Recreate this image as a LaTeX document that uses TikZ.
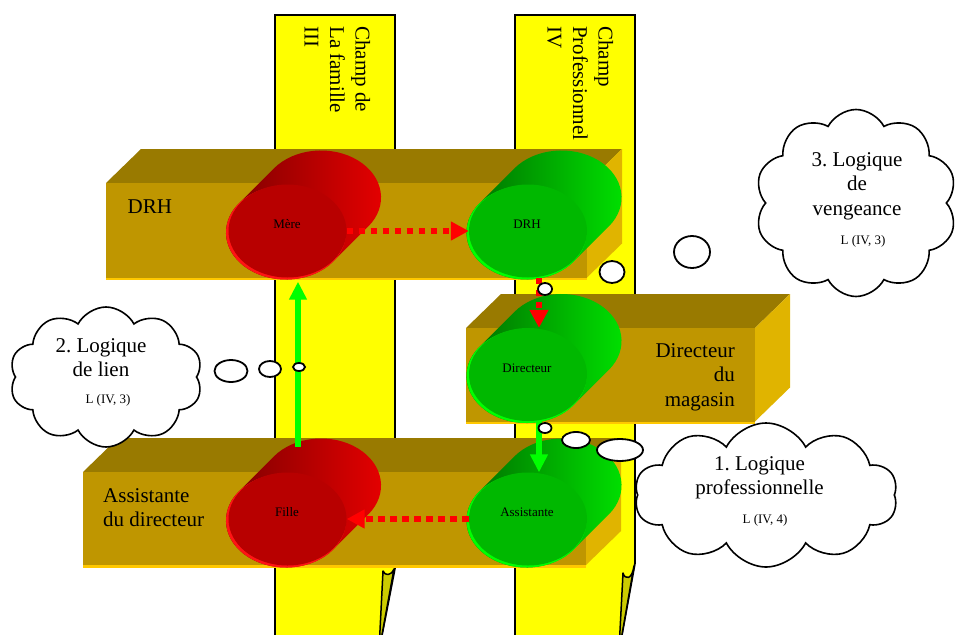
\documentclass[tikz,border=0pt]{standalone}
\usepackage{fontspec}
\setmainfont{Liberation Serif}
\usetikzlibrary{arrows.meta,shapes.geometric,shapes.symbols}
\frenchspacing

\definecolor{barfill}{RGB}{255,255,0}
\definecolor{foldfill}{RGB}{204,204,0}
\definecolor{boxfront}{RGB}{191,150,0}
\definecolor{boxtop}{RGB}{153,122,0}
\definecolor{boxside}{RGB}{224,180,0}
\definecolor{boxrim}{RGB}{255,200,0}
\definecolor{reddark}{RGB}{120,0,0}
\definecolor{redbright}{RGB}{232,0,0}
\definecolor{redface}{RGB}{184,0,0}
\definecolor{redrim}{RGB}{255,20,20}
\definecolor{grndark}{RGB}{0,105,0}
\definecolor{grnbright}{RGB}{0,228,0}
\definecolor{grnface}{RGB}{0,184,0}
\definecolor{grnrim}{RGB}{0,255,0}
\definecolor{arrowred}{RGB}{255,0,0}
\definecolor{arrowgreen}{RGB}{0,255,0}

\tikzset{
  barshape/.style={fill=barfill, draw=black, line width=1.8pt},
  foldshape/.style={fill=foldfill, draw=black, line width=1.5pt, line join=round},
  bartext/.style={font=\fontsize{21}{25.5}\selectfont, align=left, inner sep=0pt, anchor=north west, rotate=-90},
  boxlabel/.style={font=\fontsize{21}{24.5}\selectfont, inner sep=0pt},
  cyllabel/.style={font=\fontsize{13}{15}\selectfont, inner sep=0pt, anchor=base},
  cylface/.style={ellipse, minimum width=118pt, minimum height=93pt, inner sep=0pt},
  redflow/.style={draw=arrowred, line width=6.5pt, dash pattern=on 6.5pt off 5.5pt,
    -{Triangle[length=18pt,width=18pt]}},
  greenflow/.style={draw=arrowgreen, line width=5.5pt, -{Triangle[length=18pt,width=17pt]}},
  thought/.style={cloud, cloud puffs=10, cloud puff arc=125, cloud ignores aspect,
    draw=black, fill=white, line width=1.6pt, inner sep=0pt},
  bubble/.style={ellipse, draw=black, fill=white, line width=1.8pt, inner sep=0pt},
  cloudtext/.style={font=\fontsize{21}{24.5}\selectfont, align=center, inner sep=0pt},
  cloudref/.style={font=\fontsize{13}{15}\selectfont, inner sep=0pt},
}

% golden 3D bar: front face corners (x1,y1) and (x2,y2)
\newcommand\goldbox[4]{%
  \fill[boxtop] (#1,#2) -- (#1+35,#2-34) -- (#3+35,#2-34) -- (#3,#2) -- cycle;
  \fill[boxside] (#3,#2) -- (#3+35,#2-34) -- (#3+35,#4-34) -- (#3,#4) -- cycle;
  \fill[boxfront] (#1,#2) rectangle (#3,#4);
  \fill[boxrim] (#1,#4) rectangle (#3,#4+2.5);
}

% cylinder lying along the depth axis: centre, body colours, rim, face, face name
\newcommand\drawcyl[7]{%
  \path[left color=#3, right color=#4]
    (#1-47.2,#2-29) -- (#1-12.2,#2-64)
    arc[start angle=218.07, end angle=398.07, x radius=60, y radius=47]
    -- (#1+47.2,#2+29)
    arc[start angle=38.07, end angle=218.07, x radius=60, y radius=47] -- cycle;
  \fill[#5] (#1,#2) ellipse [x radius=60, y radius=47];
  \node[cylface, fill=#6] (#7) at (#1+1.5,#2-1.5) {};
}

\begin{document}
\begin{tikzpicture}[x=1pt, y=-1pt]
\useasboundingbox (0,0) rectangle (960,634);
\clip (0,0) rectangle (960,634);

% the two vertical fields
\filldraw[barshape] (275,640) -- (275,15) -- (395,15) -- (395,568) -- (381,640);
\filldraw[foldshape] (383,571) .. controls (385,576) and (391,576) .. (394,569) -- (381,640) -- (379.5,640) -- cycle;
\filldraw[barshape] (515,640) -- (515,15) -- (635,15) -- (635,563) -- (621,640);
\filldraw[foldshape] (623,573) .. controls (625,580) and (632,580) .. (634,566) -- (621,640) -- (619.5,640) -- cycle;

\node[bartext] (field-famille) at (370.5,26) {Champ de\\La famille\\III};
\node[bartext] (field-pro) at (613.5,26) {Champ\\Professionnel\\IV};

% role bars
\goldbox{106}{183}{587}{277.5}
\goldbox{466}{328}{755}{421.5}
\goldbox{83}{472}{586}{565}

\node[boxlabel, anchor=base west] (lbl-drh) at (127.5,213) {DRH};
\node[boxlabel, anchor=north east, align=right] (lbl-dir) at (735,343) {Directeur\\du\\magasin};
\node[boxlabel, anchor=north west, align=left] (lbl-asst) at (103,488) {Assistante\\du directeur};

% cylinders
\drawcyl{286}{232.5}{reddark}{redbright}{redrim}{redface}{cyl-mere}
\drawcyl{526.5}{232.5}{grndark}{grnbright}{grnrim}{grnface}{cyl-drh}
\drawcyl{526.5}{376}{grndark}{grnbright}{grnrim}{grnface}{cyl-dir}
\drawcyl{286}{520.5}{reddark}{redbright}{redrim}{redface}{cyl-fille}
\drawcyl{526.5}{520.5}{grndark}{grnbright}{grnrim}{grnface}{cyl-asst}

\node[cyllabel] (txt-mere) at (287,228) {Mère};
\node[cyllabel] (txt-drh) at (527,228) {DRH};
\node[cyllabel] (txt-dir) at (527,372) {Directeur};
\node[cyllabel] (txt-fille) at (287,516) {Fille};
\node[cyllabel] (txt-asst) at (527,516) {Assistante};

% connectors
\coordinate (vx) at (539,0);
\coordinate (lien-start) at (298,447);
\draw[redflow] (cyl-mere.east) -- (cyl-drh.west);
\draw[redflow] (cyl-asst.west) -- (cyl-fille.east);
\draw[redflow, line width=5.5pt] (cyl-drh.south -| vx) -- (cyl-dir.north -| vx);
\draw[greenflow] (cyl-dir.south -| vx) -- (cyl-asst.north -| vx);
\draw[greenflow, shorten >=4pt] (lien-start) -- (cyl-mere.south -| lien-start);

% thought bubbles
\node[bubble, minimum width=33pt, minimum height=22pt] (b2a) at (231,371) {};
\node[bubble, minimum width=22pt, minimum height=16pt] (b2b) at (270,369) {};
\node[bubble, minimum width=12pt, minimum height=8pt] (b2c) at (299,367) {};
\node[bubble, minimum width=36pt, minimum height=32pt] (b3a) at (692,252) {};
\node[bubble, minimum width=25pt, minimum height=22pt] (b3b) at (612,272) {};
\node[bubble, minimum width=14pt, minimum height=12pt] (b3c) at (545,289) {};
\node[bubble, minimum width=46pt, minimum height=22pt] (b1a) at (620,450) {};
\node[bubble, minimum width=28pt, minimum height=16pt] (b1b) at (576,440) {};
\node[bubble, minimum width=13pt, minimum height=10pt] (b1c) at (545,428) {};

% clouds
\node[thought, minimum width=263pt, minimum height=144pt] (cloud-pro) at (766,495) {};
\node[cloudtext] (c1-title) at (759.5,478) {1. Logique\\professionnelle};
\node[cloudref] (c1-ref) at (765,520) {L (IV, 4)};

\node[thought, minimum width=193pt, minimum height=140pt] (cloud-lien) at (106,377) {};
\node[cloudtext] (c2-title) at (101,357.5) {2. Logique\\de lien};
\node[cloudref] (c2-ref) at (108,400) {L (IV, 3)};

\node[thought, minimum width=202pt, minimum height=187pt] (cloud-veng) at (856,203) {};
\node[cloudtext] (c3-title) at (857,186) {3. Logique\\de\\vengeance};
\node[cloudref] (c3-ref) at (863,241) {L (IV, 3)};
\end{tikzpicture}
\end{document}
